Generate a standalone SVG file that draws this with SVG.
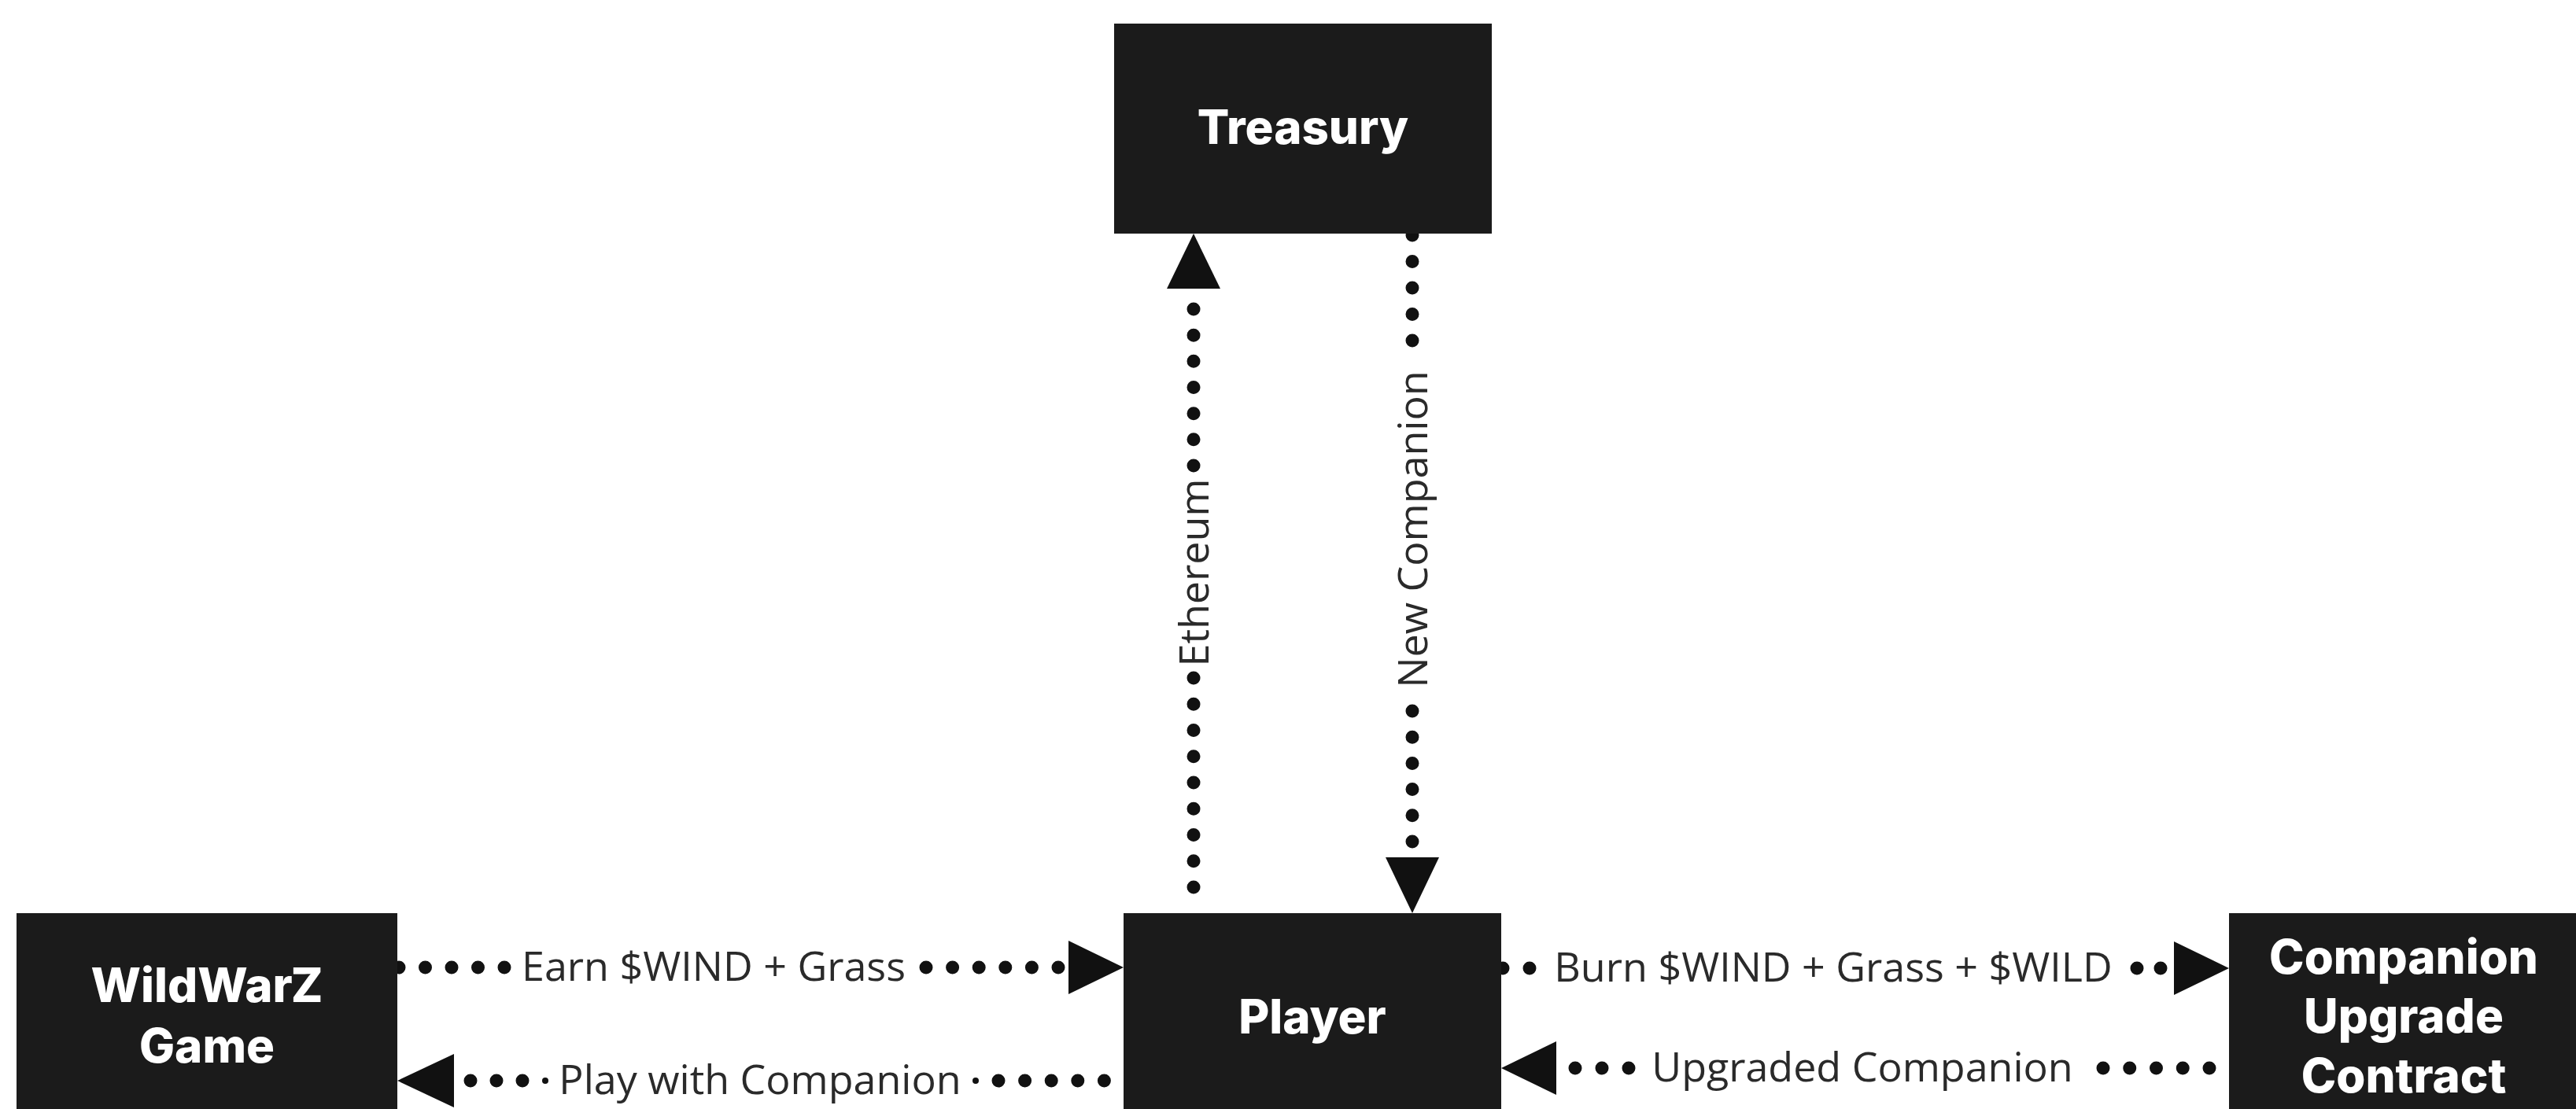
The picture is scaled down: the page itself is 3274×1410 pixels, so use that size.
<svg xmlns="http://www.w3.org/2000/svg" width="3274" height="1410" viewBox="0 0 3274 1410">
  <defs>
    <style>
      .box { fill: #1b1b1b; }
      .ntext { fill: #ffffff; font-family: Inter, "Liberation Sans", sans-serif; font-weight: 800; font-size: 60px; text-anchor: middle; }
      .dots { stroke: #111111; stroke-width: 17; stroke-linecap: round; fill: none; }
      .head { fill: #111111; }
      .ltext { fill: #2a2a2a; font-family: "Open Sans", "Liberation Sans", sans-serif; font-size: 52px; text-anchor: middle; }
    </style>
  </defs>
  <rect width="3274" height="1410" fill="#ffffff"/>

  <g id="connectors">
    <!-- Ethereum: Player -> Treasury -->
    <g id="edge-ethereum">
      <line class="dots" x1="1517" y1="1128" x2="1517" y2="859" stroke-dasharray="0 33.25"/>
      <line class="dots" x1="1517" y1="592" x2="1517" y2="390" stroke-dasharray="0 33.17"/>
      <polygon class="head" points="1517,297 1551,367 1483,367"/>
      <text class="ltext" transform="translate(1536,728) rotate(-90)">Ethereum</text>
    </g>
    <!-- New Companion: Treasury -> Player -->
    <g id="edge-newcompanion">
      <line class="dots" x1="1795" y1="299" x2="1795" y2="436" stroke-dasharray="0 33.5"/>
      <line class="dots" x1="1795" y1="904" x2="1795" y2="1073" stroke-dasharray="0 33.2"/>
      <polygon class="head" points="1795,1161 1761,1090 1829,1090"/>
      <text class="ltext" transform="translate(1814,673) rotate(-90)">New Companion</text>
    </g>
    <!-- Earn: WildWarZ -> Player -->
    <g id="edge-earn">
      <line class="dots" x1="507" y1="1230" x2="644" y2="1230" stroke-dasharray="0 33.5"/>
      <line class="dots" x1="1177" y1="1230" x2="1348" y2="1230" stroke-dasharray="0 33.6"/>
      <polygon class="head" points="1428,1230 1358,1196 1358,1264"/>
      <text class="ltext" x="907" y="1247">Earn $WIND + Grass</text>
    </g>
    <!-- Play with Companion: Player -> WildWarZ -->
    <g id="edge-play">
      <line class="dots" x1="598" y1="1374" x2="668" y2="1374" stroke-dasharray="0 33"/>
      <line class="dots" x1="1269" y1="1374" x2="1407" y2="1374" stroke-dasharray="0 33.6"/>
      <line class="dots" x1="693" y1="1374" x2="693" y2="1374" style="stroke-width:8"/>
      <line class="dots" x1="1240" y1="1374" x2="1240" y2="1374" style="stroke-width:8"/>
      <polygon class="head" points="505,1374 577,1340 577,1408"/>
      <text class="ltext" x="966" y="1391">Play with Companion</text>
    </g>
    <!-- Burn: Player -> Companion Upgrade -->
    <g id="edge-burn">
      <line class="dots" x1="1910" y1="1231" x2="1947" y2="1231" stroke-dasharray="0 34"/>
      <line class="dots" x1="2716" y1="1231" x2="2749" y2="1231" stroke-dasharray="0 30"/>
      <polygon class="head" points="2833,1231 2763,1197 2763,1265"/>
      <text class="ltext" x="2330" y="1248">Burn $WIND + Grass + $WILD</text>
    </g>
    <!-- Upgraded Companion: Companion Upgrade -> Player -->
    <g id="edge-upgraded">
      <line class="dots" x1="2002" y1="1358" x2="2073" y2="1358" stroke-dasharray="0 34"/>
      <line class="dots" x1="2673" y1="1358" x2="2811" y2="1358" stroke-dasharray="0 33.75"/>
      <polygon class="head" points="1908,1358 1978,1324 1978,1392"/>
      <text class="ltext" x="2367" y="1375">Upgraded Companion</text>
    </g>
  </g>

  <g id="node-treasury">
    <rect class="box" x="1416" y="30" width="480" height="267"/>
    <text class="ntext" x="1656" y="183">Treasury</text>
  </g>
  <g id="node-player">
    <rect class="box" x="1428" y="1161" width="480" height="270"/>
    <text class="ntext" x="1668" y="1314">Player</text>
  </g>
  <g id="node-wildwarz">
    <rect class="box" x="21" y="1161" width="484" height="270"/>
    <text class="ntext" x="263" y="1274">WildWarZ</text>
    <text class="ntext" x="263" y="1351">Game</text>
  </g>
  <g id="node-companion-upgrade">
    <rect class="box" x="2833" y="1161" width="480" height="270"/>
    <text class="ntext" x="3055" y="1238">Companion</text>
    <text class="ntext" x="3055" y="1313">Upgrade</text>
    <text class="ntext" x="3055" y="1389">Contract</text>
  </g>
</svg>
